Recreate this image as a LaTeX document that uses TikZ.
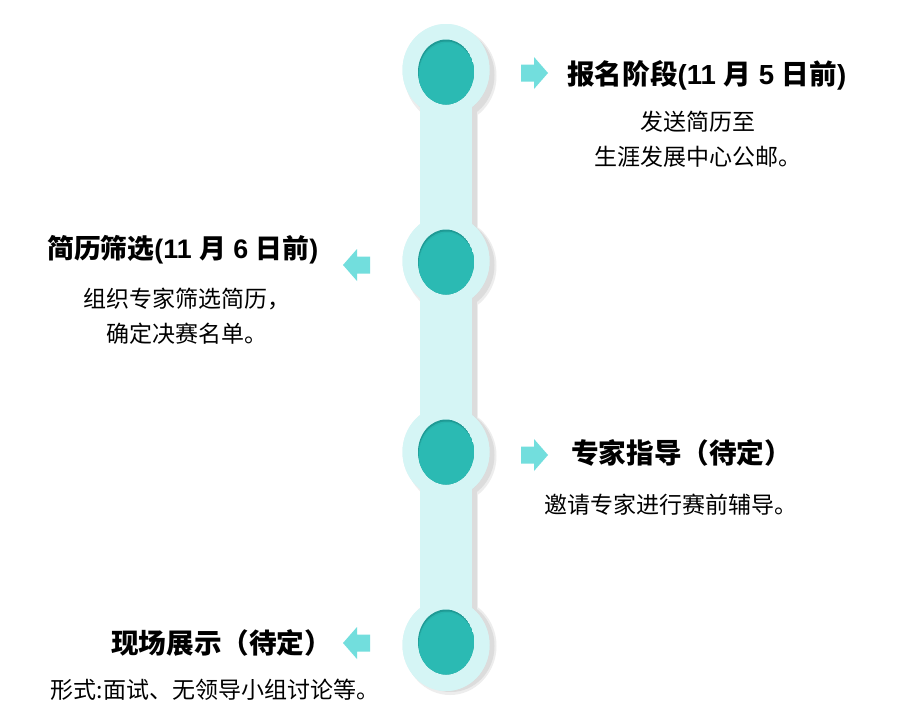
\documentclass[tikz,border=0pt]{standalone}
\usepackage{fontspec}
\usetikzlibrary{shapes.geometric}
\setmainfont{Liberation Sans}
\newfontfamily\cjk{Noto Sans CJK SC}
\newcommand\cj[1]{{\cjk #1}}
\definecolor{lightcy}{HTML}{D5F5F5}
\definecolor{teal2}{HTML}{2BBAB3}
\definecolor{tealdk}{HTML}{1F9A95}
\definecolor{arrowc}{HTML}{72DEDD}
\definecolor{shadowc}{HTML}{DCDCDC}
\definecolor{shadowl}{HTML}{EDEDED}
\tikzset{
  outer/.style={ellipse, fill=lightcy, minimum width=87pt, minimum height=92pt, inner sep=0pt},
  shad/.style={ellipse, fill=shadowc, minimum width=87pt, minimum height=92pt, inner sep=0pt},
  shadl/.style={ellipse, fill=shadowl, minimum width=91pt, minimum height=96pt, inner sep=0pt},
  bar/.style={line width=52pt, draw=lightcy},
  title/.style={inner sep=0pt, font=\fontsize{27.6}{32}\selectfont\bfseries, text=black},
  body/.style={inner sep=0pt, align=center, font=\fontsize{23}{35}\selectfont\cjk, text=black},
  arr/.style={fill=arrowc}
}
\begin{document}
\begin{tikzpicture}[x=1pt,y=-1pt]
\useasboundingbox[fill=white] (0,0) rectangle (902,728);
% shadow layers
\node[shadl] (sl1) at (450,75) {};
\node[shadl] (sl4) at (450,647) {};
\draw[line width=56pt, draw=shadowl] (sl1.center) -- (sl4.center);
\foreach \y in {76,266,456,646} \node[shadl] at (451,\y) {};
\node[shad] (s1) at (451,75) {};
\node[shad] (s4) at (451,646) {};
\draw[line width=52pt, draw=shadowc] (s1.center) -- (s4.center);
\foreach \y in {265,455} \node[shad] at (451,\y) {};
% main bar and outer circles
\node[outer] (o1) at (446,70) {};
\node[outer] (o2) at (446,261) {};
\node[outer] (o3) at (446,452) {};
\node[outer] (o4) at (446,645) {};
\draw[bar] (o1.center) -- (o4.center);
\foreach \n in {o1,o2,o3,o4} \node[outer] at (\n.center) {};
% inner circles with inner shadow
\foreach \n/\y in {i1/72,i2/262,i3/452,i4/642}{
  \begin{scope}
    \clip (446,\y) ellipse [x radius=28pt, y radius=32.5pt];
    \fill[tealdk] (446,\y) ellipse [x radius=28pt, y radius=32.5pt];
    \fill[teal2!80!tealdk] (446.6,\y+2) ellipse [x radius=28pt, y radius=32.5pt];
    \fill[teal2] (447,\y+3.5) ellipse [x radius=28pt, y radius=32.5pt];
  \end{scope}
  \node[inner sep=0pt, minimum width=56pt, minimum height=65pt, ellipse] (\n) at (446,\y) {};
}
% arrows
\coordinate (a1) at (521,73);
\coordinate (a2) at (370,265);
\coordinate (a3) at (521,455);
\coordinate (a4) at (370,643);
\foreach \a in {a1,a3}
  \fill[arr, shift={(\a)}] (0,-8.5) -- (13,-8.5) -- (13,-16) -- (27,0) -- (13,16) -- (13,8.5) -- (0,8.5) -- cycle;
\foreach \a in {a2,a4}
  \fill[arr, shift={(\a)}] (0,-8.5) -- (-13,-8.5) -- (-13,-16) -- (-27,0) -- (-13,16) -- (-13,8.5) -- (0,8.5) -- cycle;
% texts
\node[title, anchor=west] (t1) at (567,75) {\cj{报名阶段}(11 \cj{月} 5 \cj{日前})};
\node[body] (b1) at (698,139) {发送简历至\\生涯发展中心公邮。};
\node[title, anchor=west, font=\fontsize{26.8}{32}\selectfont\bfseries] (t2) at (47,250) {\cj{简历筛选}(11 \cj{月} 6 \cj{日前})};
\node[body] (b2) at (187,316) {组织专家筛选简历，\\确定决赛名单。};
\node[title, anchor=west] (t3) at (571,453) {\cj{专家指导（待定）}};
\node[body] (b3) at (671,505) {邀请专家进行赛前辅导。};
\node[title, anchor=west] (t4) at (111,643) {\cj{现场展示（待定）}};
\node[body] (b4) at (215,690) {形式:面试、无领导小组讨论等。};
\end{tikzpicture}
\end{document}
